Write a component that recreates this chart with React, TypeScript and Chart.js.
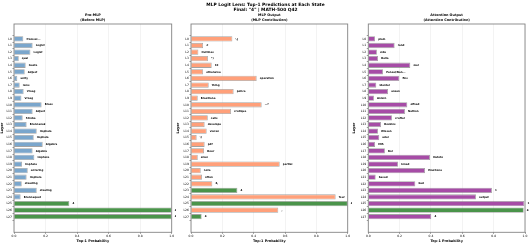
import React, { useEffect, useRef } from "react";
import { Chart, registerables } from "chart.js";
Chart.register(...registerables);

const FONT = "'DejaVu Sans', sans-serif";

const layerLabels = ["L0","L1","L2","L3","L4","L5","L6","L7","L8","L9","L10","L11","L12","L13","L14","L15","L16","L17","L18","L19","L20","L21","L22","L23","L24","L25","L26","L27"];
const xTickValues = [0, 0.2, 0.4, 0.6, 0.8, 1.0];

const preValues = [0.059,0.118,0.104,0.030,0.074,0.068,0.021,0.036,0.061,0.047,0.175,0.118,0.055,0.080,0.144,0.125,0.182,0.118,0.129,0.051,0.087,0.080,0.049,0.144,0.042,0.351,1.0,1.0];
const preTokens = ["fromsel...","Logist","Logist","qual","Geste","Adjust","unity","isms","Vroeg","Vroeg","Brass","Adjust","Strobe","Brennanek","Imphele","Imphele","Algebra","Algebra","Imphele","Imphele","entering","Imphele","steading","stealing","Brennaquet","4","4","4"];
const preMatch = [25, 26, 27];

const mlpValues = [0.264,0.077,0.047,0.108,0.132,0.077,0.419,0.113,0.272,0.043,0.451,0.255,0.107,0.087,0.100,0.036,0.087,0.083,0.043,0.566,0.062,0.070,0.136,0.296,0.923,1.0,0.557,0.068];
const mlpTokens = ["\\{","#","Outlines","*)","10","otherwise","operation","thing","police","Brasiliane","…?","cratique","calls","develope","vieren","\\(","pdf","Hour","allen","partial","note","often","8,","4","four","4",",","4"];
const mlpMatch = [23, 25, 27];

const attnValues = [0.043,0.168,0.055,0.062,0.268,0.094,0.198,0.051,0.126,0.036,0.249,0.234,0.151,0.081,0.062,0.070,0.043,0.106,0.394,0.190,0.362,0.047,0.300,0.789,0.687,0.996,0.992,0.402];
const attnTokens = ["plain","rand","side","Helle","mer","Pensel/Nan...","fins","Identer","ansen","Anlein","offsed","Nathon","crafter","Hoskins","Wissen","adel","MIS","Bor","Hatoto","Inned","Emotione","based","bad","1","output","1","4","4"];
const attnMatch = [26];

const GREEN = "#4a944a";

type Panel = {
  left: number; width: number; yw: number; padRight: number;
  color: string; values: number[]; tokens: string[]; match: number[];
  title: string[]; mainTitle?: string[];
};

const panels: Panel[] = [
  { left: 0, width: 176, yw: 14, padRight: 4.3, color: "#7aa6cc", values: preValues, tokens: preTokens, match: preMatch, title: ["Pre-MLP", "(Before MLP)"] },
  { left: 176, width: 176, yw: 15, padRight: 4.3, color: "#ffa07a", values: mlpValues, tokens: mlpTokens, match: mlpMatch, title: ["MLP Output", "(MLP Contribution)"], mainTitle: ["MLP Logit Lens: Top-1 Predictions at Each State", "Final: \"4\" | MATH-500 Q42"] },
  { left: 352, width: 179, yw: 16.3, padRight: 6, color: "#a64ca6", values: attnValues, tokens: attnTokens, match: attnMatch, title: ["Attention Output", "(Attention Contribution)"] },
];

function PanelChart({ p }: { p: Panel }) {
  const ref = useRef<HTMLCanvasElement>(null);
  useEffect(() => {
    if (!ref.current) return;
    const decor = {
      id: "decor",
      afterDatasetsDraw(chart: any) {
        const ctx = chart.ctx;
        const xs = chart.scales.x;
        const meta = chart.getDatasetMeta(0);
        ctx.save();
        ctx.font = `600 2.6px ${FONT}`;
        ctx.fillStyle = "#000";
        ctx.textBaseline = "middle";
        ctx.textAlign = "left";
        meta.data.forEach((el: any, i: number) => {
          const x = xs.getPixelForValue(p.values[i]) + 3.1;
          ctx.fillText(p.tokens[i], x, el.y);
        });
        ctx.restore();
      },
      afterDraw(chart: any) {
        const ctx = chart.ctx;
        const a = chart.chartArea;
        ctx.save();
        ctx.strokeStyle = "#858585";
        ctx.lineWidth = 0.9;
        ctx.strokeRect(a.left, a.top, a.right - a.left, a.bottom - a.top);
        ctx.fillStyle = "#000";
        ctx.textAlign = "center";
        ctx.textBaseline = "middle";
        ctx.font = `bold 3.4px ${FONT}`;
        const cx = (a.left + a.right) / 2;
        ctx.fillText(p.title[0], cx, 14.7);
        ctx.fillText(p.title[1], cx, 19.7);
        if (p.mainTitle) {
          ctx.font = `bold 4.4px ${FONT}`;
          const mx = 265.5 - p.left;
          ctx.fillText(p.mainTitle[0], mx, 4.7);
          ctx.fillText(p.mainTitle[1], mx, 9.7);
        }
        ctx.restore();
      },
    };
    const chart = new Chart(ref.current, {
      type: "bar",
      data: {
        datasets: [{
          data: p.values.map((v, i) => ({ x: v, y: i })),
          backgroundColor: p.values.map((_, i) => (p.match.includes(i) ? GREEN : p.color)),
          borderColor: "rgba(140,140,140,0.8)",
          borderWidth: 0.8,
          barPercentage: 0.8,
          categoryPercentage: 1,
        }],
      },
      options: {
        indexAxis: "y",
        responsive: false,
        animation: false,
        devicePixelRatio: 1,
        layout: { padding: { top: 24, left: 0, right: p.padRight, bottom: 0 } },
        plugins: { legend: { display: false }, tooltip: { enabled: false }, title: { display: false } },
        scales: {
          y: {
            type: "linear",
            reverse: true,
            min: -1.7,
            max: 28.8,
            afterBuildTicks: (axis: any) => { axis.ticks = layerLabels.map((_, i) => ({ value: i })); },
            afterFit: (s: any) => { s.width = p.yw; },
            ticks: { autoSkip: false, padding: 0.6, font: { size: 3, family: FONT }, color: "#000", callback: (v: any) => layerLabels[v as number] ?? "" },
            grid: { drawOnChartArea: false, drawTicks: true, tickLength: 1.5, tickColor: "#333", tickWidth: 0.5 },
            border: { display: false },
            title: { display: true, text: "Layer", font: { size: 3.5, weight: "bold", family: FONT }, color: "#000", padding: 0 },
          },
          x: {
            type: "linear",
            min: 0,
            max: 1.0,
            afterBuildTicks: (axis: any) => { axis.ticks = xTickValues.map((v) => ({ value: v })); },
            afterFit: (s: any) => { s.height = 12.7; },
            ticks: { padding: 0.6, font: { size: 3, family: FONT }, color: "#000", callback: (v: any) => Number(v).toFixed(1) },
            grid: { color: "#e6e6e6", lineWidth: 0.5, drawTicks: true, tickLength: 1.5, tickColor: "#333", tickWidth: 0.5 },
            border: { display: false },
            title: { display: true, text: "Top-1 Probability", font: { size: 3.4, weight: "bold", family: FONT }, color: "#000", padding: { top: 0, bottom: 2.3 } },
          },
        },
      },
      plugins: [decor],
    } as any);
    return () => chart.destroy();
  }, [p]);
  return (
    <canvas
      ref={ref}
      width={p.width}
      height={245}
      style={{ position: "absolute", left: p.left, top: 0, width: p.width, height: 245 }}
    />
  );
}

export default function App() {
  return (
    <div style={{ position: "fixed", left: 0, top: 0, width: 531, height: 245, background: "#fff", overflow: "hidden" }}>
      {panels.map((p, i) => <PanelChart key={i} p={p} />)}
    </div>
  );
}
